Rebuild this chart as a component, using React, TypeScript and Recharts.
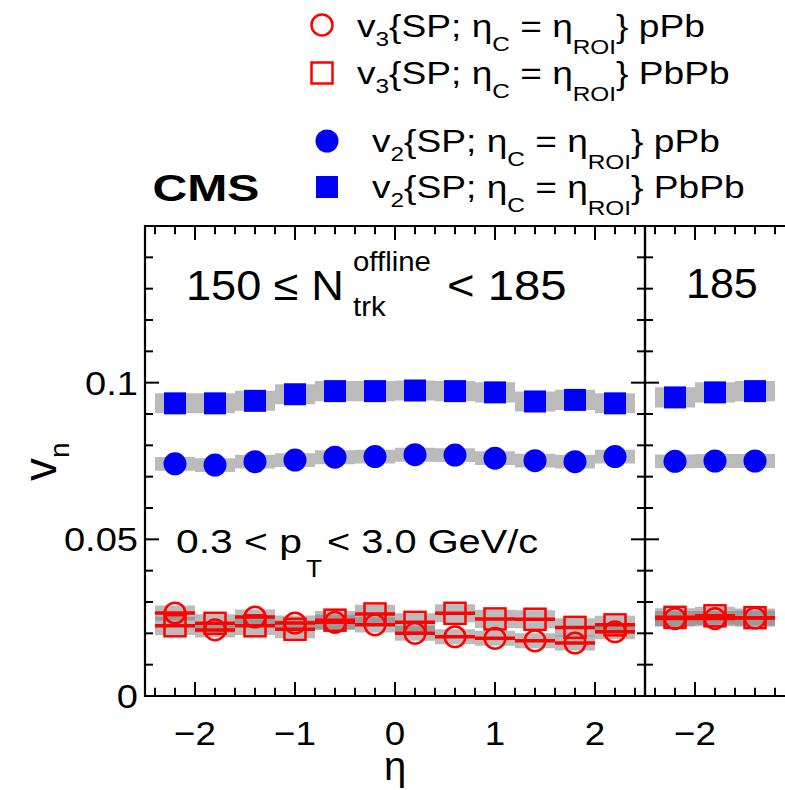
import React from 'react';
import { ComposedChart, XAxis, YAxis, Scatter, ReferenceArea, ReferenceLine } from 'recharts';

const FONT = "'Liberation Sans', Arial, Helvetica, sans-serif";
const RED = '#ff0000';
const BLUE = '#0000ff';

// ---- Panel A: 150 <= N < 185 ----
const ETA_A = [-2.2, -1.8, -1.4, -1.0, -0.6, -0.2, 0.2, 0.6, 1.0, 1.4, 1.8, 2.2];
const V2_PBPB_A = [0.0934, 0.0934, 0.0942, 0.0963, 0.0973, 0.0973, 0.0975, 0.0973, 0.0969, 0.094, 0.0945, 0.0934];
const V2_PPB_A = [0.0741, 0.0737, 0.0748, 0.0753, 0.0762, 0.0764, 0.077, 0.0769, 0.0759, 0.0751, 0.0748, 0.0764];
const V3_PPB_A = [0.0265, 0.0211, 0.0252, 0.0233, 0.0235, 0.0227, 0.02, 0.0189, 0.0184, 0.0176, 0.0169, 0.0205];
const V3_PBPB_A = [0.0224, 0.0232, 0.0224, 0.0213, 0.0242, 0.0262, 0.0235, 0.0264, 0.0246, 0.0245, 0.0219, 0.0227];

// ---- Panel B: 185 <= N < ... (only first bins visible) ----
const ETA_B = [-2.2, -1.8, -1.4];
const V2_PBPB_B = [0.0953, 0.0969, 0.0973];
const V2_PPB_B = [0.0749, 0.075, 0.075];
const V3_PPB_B = [0.0247, 0.0247, 0.0249];
const V3_PBPB_B = [0.0251, 0.0256, 0.025];

// systematic uncertainties (half heights)
const SYS_V2_PBPB = 0.0032;
const SYS_V2_PPB = 0.0022;
const SYS_V3_PBPB = 0.0029;
const SYS_V3_PPB = 0.0024;
const BIN_HALF = 0.2;

// axes
const X_DOMAIN = [-2.5, 2.5];
const Y_DOMAIN = [0, 0.15];
const X_MAJOR = [-2, -1, 0, 1, 2];
const X_LABEL_TICKS_A = [-2, -1, 0, 1, 2];
const X_LABEL_TICKS_B = [-2];
const X_MINOR = [-2.4, -2.2, -1.8, -1.6, -1.4, -1.2, -0.8, -0.6, -0.4, -0.2, 0.2, 0.4, 0.6, 0.8, 1.2, 1.4, 1.6, 1.8, 2.2, 2.4];
const Y_LABEL_TICKS = [0, 0.05, 0.1];
const Y_MINOR = [0.01, 0.02, 0.03, 0.04, 0.06, 0.07, 0.08, 0.09, 0.11, 0.12, 0.13, 0.14];

const LEGEND = [
  { n: '3', sys: 'pPb', marker: 'openCircle' },
  { n: '3', sys: 'PbPb', marker: 'openSquare' },
  { n: '2', sys: 'pPb', marker: 'circle' },
  { n: '2', sys: 'PbPb', marker: 'square' },
];

// tick lengths (data units)
const XT_MAJ = 0.0045;
const XT_MIN = 0.0026;
const YT_MAJ = 0.14;
const YT_MIN = 0.08;

const fmtX = (v: number) => (v < 0 ? '\u2212' + Math.abs(v) : String(v));

const XTick = (p: any) => (
  <text
    transform={`translate(${p.x},${p.y}) scale(1.08,1)`}
    textAnchor="middle"
    fontSize={34}
    fontFamily={FONT}
    fill="#000"
    dy="0.71em"
  >
    {fmtX(p.payload.value)}
  </text>
);

const YTick = (p: any) => (
  <text
    transform={`translate(${p.x},${p.y}) scale(1.12,1)`}
    textAnchor="end"
    fontSize={34}
    fontFamily={FONT}
    fill="#000"
    dy="0.355em"
  >
    {String(p.payload.value)}
  </text>
);

interface PanelProps {
  width: number;
  left: number;
  right: number;
  eta: number[];
  v2PbPb: number[];
  v2pPb: number[];
  v3PbPb: number[];
  v3pPb: number[];
  yLabels: boolean;
  xLabels: number[];
}

function Panel({ width, left, right, eta, v2PbPb, v2pPb, v3PbPb, v3pPb, yLabels, xLabels }: PanelProps) {
  const pts = (ys: number[]) => eta.map((x, i) => ({ x, y: ys[i] }));
  const boxes = (ys: number[], sys: number, key: string) =>
    eta.map((x, i) => (
      <ReferenceArea
        key={key + i}
        x1={x - BIN_HALF}
        x2={x + BIN_HALF}
        y1={ys[i] - sys}
        y2={ys[i] + sys}
        fill="#777777"
        fillOpacity={0.5}
        stroke="none"
        ifOverflow="visible"
      />
    ));
  const hbars = (ys: number[], key: string) =>
    eta.map((x, i) => (
      <ReferenceLine
        key={key + i}
        segment={[
          { x: x - BIN_HALF, y: ys[i] },
          { x: x + BIN_HALF, y: ys[i] },
        ]}
        stroke={RED}
        strokeWidth={3.5}
        ifOverflow="visible"
      />
    ));
  const xTicks: React.ReactNode[] = [];
  X_MAJOR.concat(X_MINOR).forEach((t, i) => {
    const len = X_MAJOR.includes(t) ? XT_MAJ : XT_MIN;
    xTicks.push(
      <ReferenceLine key={'xb' + i} segment={[{ x: t, y: Y_DOMAIN[0] }, { x: t, y: Y_DOMAIN[0] + len }]} stroke="#000" strokeWidth={2} ifOverflow="visible" />,
      <ReferenceLine key={'xt' + i} segment={[{ x: t, y: Y_DOMAIN[1] }, { x: t, y: Y_DOMAIN[1] - len }]} stroke="#000" strokeWidth={2} ifOverflow="visible" />
    );
  });
  const yTicks: React.ReactNode[] = [];
  Y_LABEL_TICKS.concat(Y_MINOR).forEach((t, i) => {
    const len = Y_LABEL_TICKS.includes(t) ? YT_MAJ : YT_MIN;
    yTicks.push(
      <ReferenceLine key={'yl' + i} segment={[{ x: X_DOMAIN[0], y: t }, { x: X_DOMAIN[0] + len, y: t }]} stroke="#000" strokeWidth={2} ifOverflow="visible" />,
      <ReferenceLine key={'yr' + i} segment={[{ x: X_DOMAIN[1], y: t }, { x: X_DOMAIN[1] - len, y: t }]} stroke="#000" strokeWidth={2} ifOverflow="visible" />
    );
  });

  return (
    <ComposedChart width={width} height={790} margin={{ top: 226, right, bottom: 93, left: left - 1 }}>
      <XAxis
        type="number"
        dataKey="x"
        domain={X_DOMAIN}
        allowDataOverflow
        ticks={xLabels}
        interval={0}
        tickLine={false}
        axisLine={false}
        tickSize={0}
        tickMargin={25}
        height={1}
        tick={(p: any) => <XTick {...p} />}
      />
      <YAxis
        type="number"
        dataKey="y"
        domain={Y_DOMAIN}
        allowDataOverflow
        ticks={Y_LABEL_TICKS}
        interval={0}
        tickLine={false}
        axisLine={false}
        tickSize={0}
        tickMargin={7}
        width={1}
        tick={yLabels ? (p: any) => <YTick {...p} /> : false}
      />
      {boxes(v2PbPb, SYS_V2_PBPB, 'b1')}
      {boxes(v2pPb, SYS_V2_PPB, 'b2')}
      {boxes(v3PbPb, SYS_V3_PBPB, 'b3')}
      {boxes(v3pPb, SYS_V3_PPB, 'b4')}
      {hbars(v3PbPb, 'h1')}
      {hbars(v3pPb, 'h2')}
      <ReferenceArea x1={X_DOMAIN[0]} x2={X_DOMAIN[1]} y1={Y_DOMAIN[0]} y2={Y_DOMAIN[1]} fill="none" stroke="#000" strokeWidth={2.2} ifOverflow="visible" />
      {xTicks}
      {yTicks}
      <Scatter
        name="v2 PbPb"
        data={pts(v2PbPb)}
        isAnimationActive={false}
        shape={(p: any) => <rect x={p.cx - 11} y={p.cy - 11} width={22} height={22} fill={BLUE} />}
      />
      <Scatter
        name="v2 pPb"
        data={pts(v2pPb)}
        isAnimationActive={false}
        shape={(p: any) => <circle cx={p.cx} cy={p.cy} r={11.5} fill={BLUE} />}
      />
      <Scatter
        name="v3 PbPb"
        data={pts(v3PbPb)}
        isAnimationActive={false}
        shape={(p: any) => (
          <rect x={p.cx - 10.5} y={p.cy - 10.5} width={21} height={21} fill="none" stroke={RED} strokeWidth={2.5} />
        )}
      />
      <Scatter
        name="v3 pPb"
        data={pts(v3pPb)}
        isAnimationActive={false}
        shape={(p: any) => <circle cx={p.cx} cy={p.cy} r={10.3} fill="none" stroke={RED} strokeWidth={2.5} />}
      />
    </ComposedChart>
  );
}

function LegendMarker({ kind, cx, cy }: { kind: string; cx: number; cy: number }) {
  if (kind === 'openCircle') return <circle cx={cx} cy={cy} r={10.5} fill="none" stroke={RED} strokeWidth={2.5} />;
  if (kind === 'openSquare')
    return <rect x={cx - 10.5} y={cy - 10.5} width={21} height={21} fill="none" stroke={RED} strokeWidth={2.5} />;
  if (kind === 'circle') return <circle cx={cx} cy={cy} r={11.5} fill={BLUE} />;
  return <rect x={cx - 11} y={cy - 11} width={22} height={22} fill={BLUE} />;
}

function LegendLabel({ x, y, n, sys }: { x: number; y: number; n: string; sys: string }) {
  return (
    <text transform={`translate(${x},${y}) scale(1.16,1)`} fontSize={32} fontFamily={FONT} fill="#000">
      v<tspan fontSize={21} dy={9}>{n}</tspan>
      <tspan dy={-9}>{'{SP; \u03b7'}</tspan>
      <tspan fontSize={21} dy={14}>C</tspan>
      <tspan dy={-14}>{' = \u03b7'}</tspan>
      <tspan fontSize={21} dy={17}>ROI</tspan>
      <tspan dy={-17}>{'} ' + sys}</tspan>
    </text>
  );
}

const LEGEND_POS = [
  { mx: 322, my: 25, tx: 357, ty: 37 },
  { mx: 322, my: 73, tx: 357, ty: 84 },
  { mx: 327, my: 141, tx: 372, ty: 152 },
  { mx: 327, my: 187, tx: 372, ty: 198 },
];

function Overlay() {
  return (
    <svg width={785} height={790} style={{ position: 'absolute', left: 0, top: 0, pointerEvents: 'none' }}>
      {LEGEND.map((l, i) => (
        <g key={i}>
          <LegendMarker kind={l.marker} cx={LEGEND_POS[i].mx} cy={LEGEND_POS[i].my} />
          <LegendLabel x={LEGEND_POS[i].tx} y={LEGEND_POS[i].ty} n={l.n} sys={l.sys} />
        </g>
      ))}
      <text transform="translate(152.5,200.5) scale(1.3,1)" fontSize={37} fontWeight="bold" fontFamily={FONT} fill="#000">
        CMS
      </text>
      <text transform="translate(186,300) scale(1.05,1)" fontSize={43} fontFamily={FONT} fill="#000">
        {'150 \u2264 N'}
      </text>
      <text transform="translate(353,271) scale(1.05,1)" fontSize={28} fontFamily={FONT} fill="#000">
        offline
      </text>
      <text transform="translate(353,316) scale(1.05,1)" fontSize={28} fontFamily={FONT} fill="#000">
        trk
      </text>
      <text transform="translate(447,300) scale(1.1,1)" fontSize={43} fontFamily={FONT} fill="#000">
        {'< 185'}
      </text>
      <text transform="translate(686,298)" fontSize={43} fontFamily={FONT} fill="#000">
        185
      </text>
      <text transform="translate(176,552.5) scale(1.2,1)" fontSize={34} fontFamily={FONT} fill="#000">
        {'0.3 < p'}
      </text>
      <text transform="translate(306,577) scale(1.1,1)" fontSize={24} fontFamily={FONT} fill="#000">
        T
      </text>
      <text transform="translate(327,552.5) scale(1.17,1)" fontSize={34} fontFamily={FONT} fill="#000">
        {'< 3.0 GeV/c'}
      </text>
      <text transform="translate(56,481) rotate(-90)" fontSize={46} fontFamily={FONT} fill="#000">
        v<tspan fontSize={28} dy={13}>n</tspan>
      </text>
      <text x={395} y={780} textAnchor="middle" fontSize={40} fontFamily={FONT} fill="#000">
        {'\u03b7'}
      </text>
    </svg>
  );
}

export default function App() {
  return (
    <div
      style={{
        position: 'fixed',
        left: 0,
        top: 0,
        width: 785,
        height: 790,
        overflow: 'hidden',
        background: '#fff',
      }}
    >
      <div style={{ position: 'absolute', left: 0, top: 0 }}>
        <Panel
          width={785}
          left={145}
          right={140}
          eta={ETA_A}
          v2PbPb={V2_PBPB_A}
          v2pPb={V2_PPB_A}
          v3PbPb={V3_PBPB_A}
          v3pPb={V3_PPB_A}
          yLabels={true}
          xLabels={X_LABEL_TICKS_A}
        />
      </div>
      <div style={{ position: 'absolute', left: 0, top: 0 }}>
        <Panel
          width={1200}
          left={645}
          right={55}
          eta={ETA_B}
          v2PbPb={V2_PBPB_B}
          v2pPb={V2_PPB_B}
          v3PbPb={V3_PBPB_B}
          v3pPb={V3_PPB_B}
          yLabels={false}
          xLabels={X_LABEL_TICKS_B}
        />
      </div>
      <Overlay />
    </div>
  );
}
